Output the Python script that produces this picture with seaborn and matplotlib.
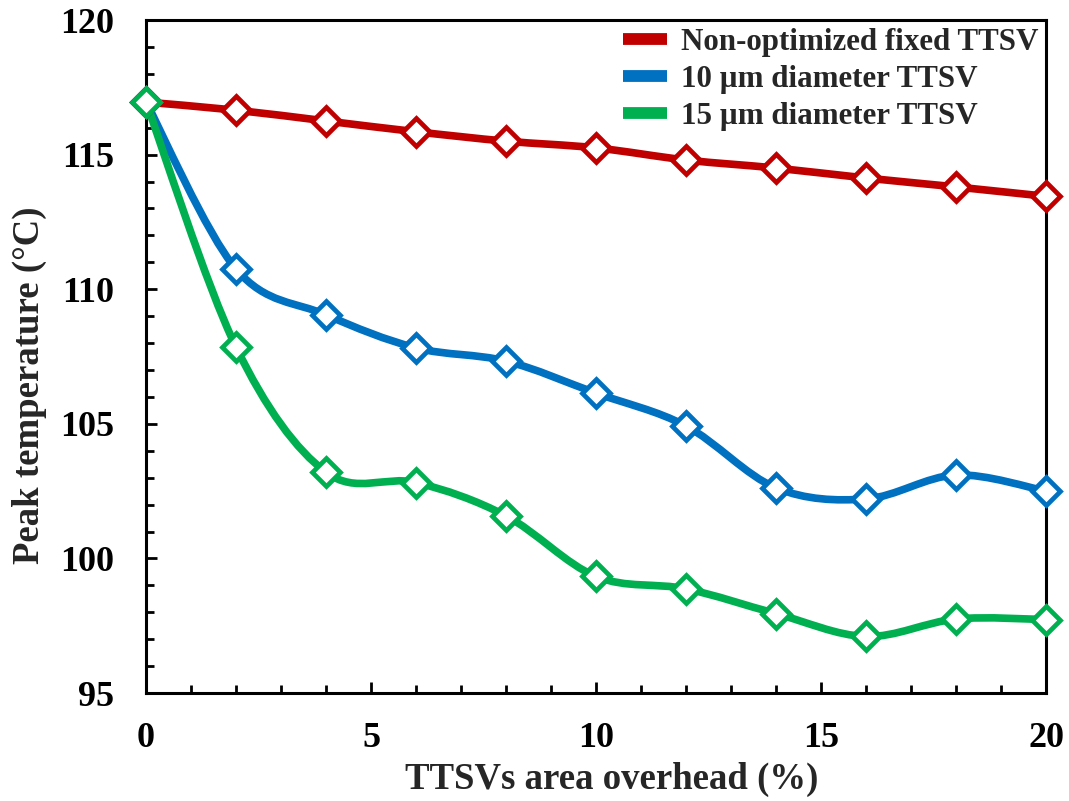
import numpy as np
import pandas as pd
import matplotlib
matplotlib.use("Agg")
import matplotlib.pyplot as plt
from matplotlib.path import Path
from matplotlib.patches import PathPatch
from matplotlib.lines import Line2D
from matplotlib.ticker import MultipleLocator
import seaborn as sns

# Data: TTSV area overhead (%) vs. peak temperature (°C)
overhead = [0, 2, 4, 6, 8, 10, 12, 14, 16, 18, 20]
fixed_ttsv = [116.95, 116.65, 116.25, 115.85, 115.5, 115.25, 114.8, 114.5, 114.13, 113.8, 113.45]
ttsv_10um = [116.95, 110.75, 109.05, 107.82, 107.33, 106.14, 104.92, 102.62, 102.21, 103.1, 102.5]
ttsv_15um = [116.95, 107.85, 103.2, 102.82, 101.58, 99.33, 98.87, 97.95, 97.1, 97.75, 97.73]

series_names = ["Non-optimized fixed TTSV", "10 \u00b5m diameter TTSV", "15 \u00b5m diameter TTSV"]
colors = ["#C00000", "#0070C0", "#00B050"]

df = pd.DataFrame({
    "overhead": overhead * 3,
    "temp": fixed_ttsv + ttsv_10um + ttsv_15um,
    "series": sum([[n] * len(overhead) for n in series_names], []),
})

sns.set_theme(style="ticks")
plt.rcParams["font.family"] = ["Liberation Serif", "DejaVu Serif"]
plt.rcParams["font.weight"] = "bold"

fig = plt.figure(figsize=(10.69, 8.01), dpi=100)
ax = fig.add_axes([0.1366, 0.1348, 0.842, 0.8402])


def smooth_path(xs, ys):
    """Cubic Bezier path through the points (Catmull-Rom style tangents)."""
    pts = np.column_stack([xs, ys]).astype(float)
    n = len(pts)
    verts = [pts[0]]
    codes = [Path.MOVETO]
    for i in range(n - 1):
        p_prev = pts[i - 1] if i > 0 else pts[i]
        p0, p1 = pts[i], pts[i + 1]
        p_next = pts[i + 2] if i + 2 < n else pts[i + 1]
        c1 = p0 + (p1 - p_prev) / 6.0
        c2 = p1 - (p_next - p0) / 6.0
        verts += [c1, c2, p1]
        codes += [Path.CURVE4] * 3
    return Path(verts, codes)


for name, color in zip(series_names, colors):
    sub = df[df["series"] == name]
    patch = PathPatch(smooth_path(sub["overhead"].values, sub["temp"].values),
                      facecolor="none", edgecolor=color, lw=5.5, capstyle="round",
                      joinstyle="round", transform=ax.transData, zorder=3)
    ax.add_patch(patch)
    sns.lineplot(data=sub, x="overhead", y="temp", ax=ax, color=color,
                 marker="D", markersize=14.5, markerfacecolor="white",
                 markeredgecolor=color, markeredgewidth=3.4, linewidth=0,
                 zorder=4, legend=False, clip_on=False)

ax.set_xlim(0, 20)
ax.set_ylim(95, 120)
ax.xaxis.set_major_locator(MultipleLocator(5))
ax.xaxis.set_minor_locator(MultipleLocator(1))
ax.yaxis.set_major_locator(MultipleLocator(5))
ax.yaxis.set_minor_locator(MultipleLocator(1))
ax.tick_params(which="both", direction="in", width=2, top=False, right=False,
               labelsize=26, colors="black")
ax.tick_params(which="major", length=8)
ax.tick_params(axis="y", which="major", pad=23)
ax.tick_params(axis="x", which="major", pad=21)
ax.tick_params(which="minor", length=6)
for lbl in ax.get_xticklabels() + ax.get_yticklabels():
    lbl.set_fontweight("bold")

for sp in ax.spines.values():
    sp.set_visible(True)
    sp.set_linewidth(2.2)
    sp.set_color("black")

ax.set_xlabel("TTSVs area overhead (%)", fontsize=26.5, fontweight="bold", labelpad=5)
ax.set_ylabel("Peak temperature (\u00b0C)", fontsize=26.5, fontweight="bold", labelpad=9)
ax.xaxis.label.set_x(0.517)
ax.yaxis.label.set_y(0.457)

handles = [Line2D([0], [0], color=c, lw=8.5, solid_capstyle="butt") for c in colors]
ax.legend(handles, series_names, loc="upper right", frameon=False,
          prop={"size": 22.3, "weight": "bold"}, handlelength=1.4,
          handletextpad=0.45, labelspacing=0.26, borderaxespad=0.0,
          bbox_to_anchor=(1.005, 1.007))

fig.savefig("out.png", dpi=100)
